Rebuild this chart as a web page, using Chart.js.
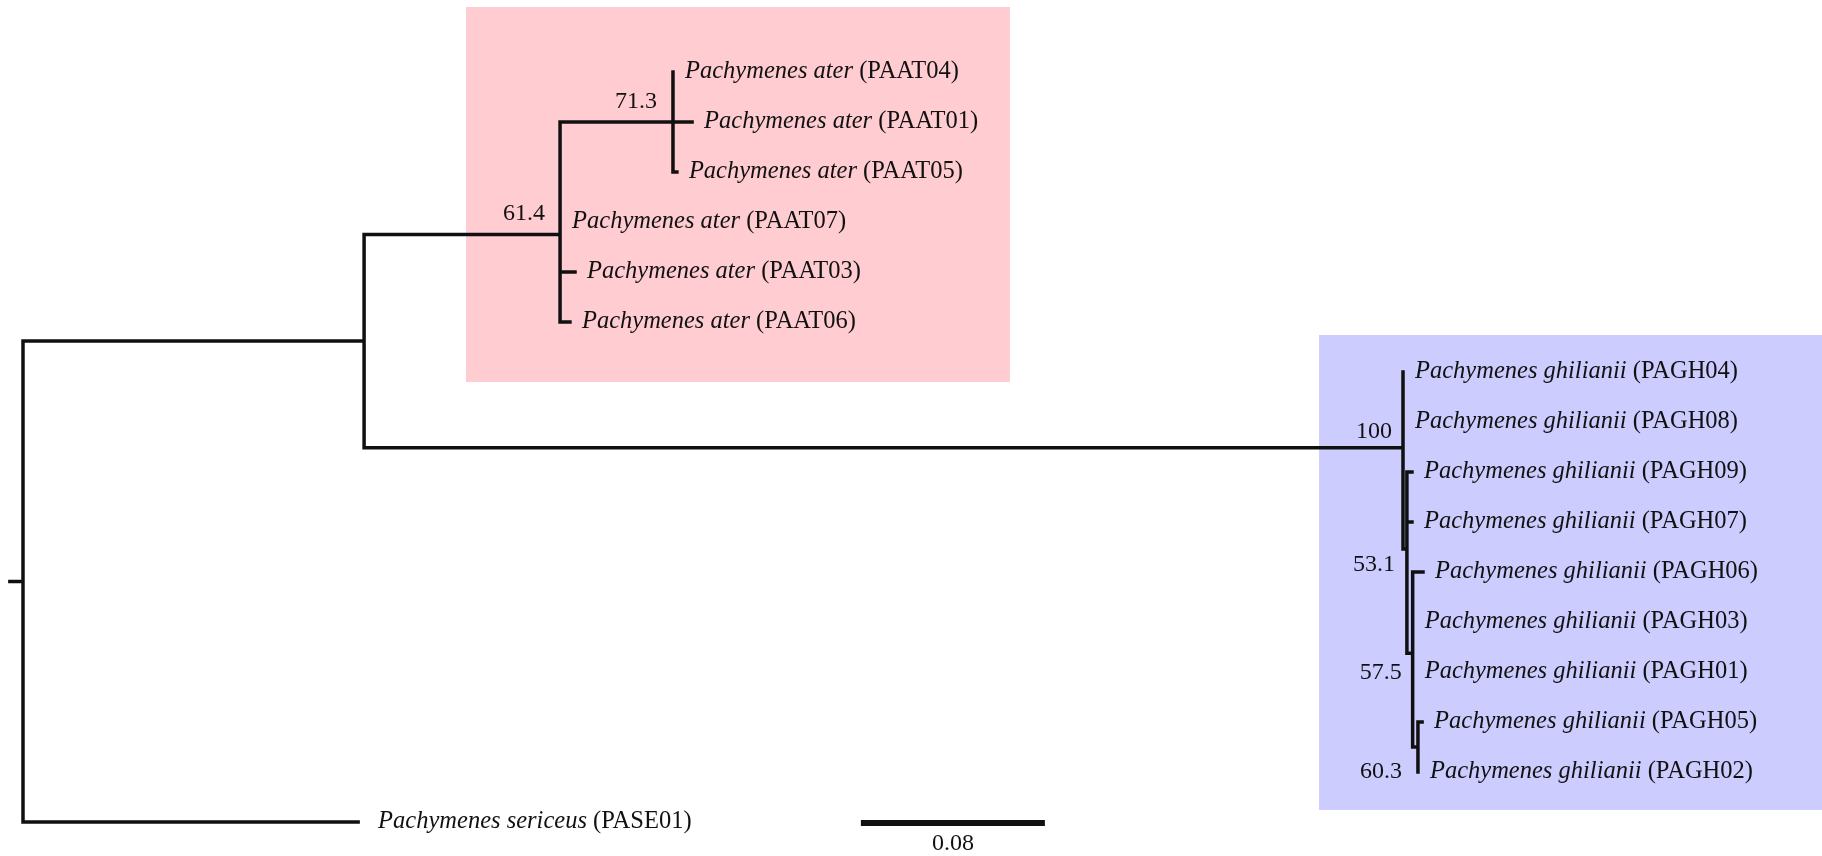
<!DOCTYPE html>
<html>
<head>
<meta charset="utf-8">
<title>Pachymenes phylogeny</title>
<script src="https://cdn.jsdelivr.net/npm/chart.js@4.4.1/dist/chart.umd.min.js"></script>
<style>
  html, body { margin: 0; padding: 0; background: #ffffff; }
  canvas { display: block; }
</style>
</head>
<body>
<canvas id="tree" width="1822" height="856"></canvas>
<script>
// ---- Tree data -------------------------------------------------------------
// Every node lists its parent (index, -1 for the root) and the length of the
// branch leading to it (substitutions per site). Leaves carry a taxon name.
const nodeNames = [
  '',                                   // 0  root
  '',                                   // 1  ingroup
  '',                                   // 2  P. ater clade
  '',                                   // 3  ater subclade
  'Pachymenes ater (PAAT04)',           // 4
  'Pachymenes ater (PAAT01)',           // 5
  'Pachymenes ater (PAAT05)',           // 6
  'Pachymenes ater (PAAT07)',           // 7
  'Pachymenes ater (PAAT03)',           // 8
  'Pachymenes ater (PAAT06)',           // 9
  '',                                   // 10 P. ghilianii clade
  'Pachymenes ghilianii (PAGH04)',      // 11
  'Pachymenes ghilianii (PAGH08)',      // 12
  '',                                   // 13
  'Pachymenes ghilianii (PAGH09)',      // 14
  'Pachymenes ghilianii (PAGH07)',      // 15
  '',                                   // 16
  'Pachymenes ghilianii (PAGH06)',      // 17
  'Pachymenes ghilianii (PAGH03)',      // 18
  'Pachymenes ghilianii (PAGH01)',      // 19
  '',                                   // 20
  'Pachymenes ghilianii (PAGH05)',      // 21
  'Pachymenes ghilianii (PAGH02)',      // 22
  'Pachymenes sericeus (PASE01)'        // 23
];
const nodeParent = [-1, 0, 1, 2, 3, 3, 3, 2, 2, 2, 1, 10, 10, 10, 13, 13, 13, 16, 16, 16, 16, 20, 20, 0];
const branchLength = [
  0.0057, 0.1483, 0.0852, 0.0491, 0.0, 0.0083, 0.0017, 0.0, 0.0065, 0.0043,
  0.4517, 0.0, 0.0, 0.0017, 0.0022, 0.0022, 0.0025, 0.0045, 0.0, 0.0,
  0.0023, 0.0018, 0.0, 0.1457
];
// Bootstrap support shown at internal nodes
const supportValues = [null, null, 61.4, 71.3, null, null, null, null, null, null,
  100, null, null, 53.1, null, null, 57.5, null, null, null, 60.3, null, null, null];

// Shaded clade panels (x in branch-length units, y in leaf rows)
const cladeBoxXMin = [0.1926, 0.5635];
const cladeBoxXMax = [0.4291, 0.7822];
const cladeBoxRowMin = [-1.30, 5.26];
const cladeBoxRowMax = [6.20, 14.76];

// Scale bar
const scaleBarLength = 0.08;
const scaleBarStart = 0.3643;
const scaleBarRow = 15.02;
const scaleBarLabel = '0.08';

// ---- Styling ---------------------------------------------------------------
const boxColors = ['rgb(255,204,209)', 'rgb(204,204,255)'];
const lineColor = '#101010';
const textColor = '#111111';
const fontFamily = '"Liberation Serif", "Times New Roman", serif';
const taxonFontSize = 24.5;
const supportFontSize = 24;
const tipGap = 12;
const tipGapOverride = {23: 20};
// Pixel nudges for support labels (right-aligned, left of their node)
const supportDx = {2: -15, 3: -16, 10: -11, 13: -12, 16: -11, 20: -16};
const supportDy = {2: -21, 3: -20, 10: -16, 13: 16, 16: 19, 20: 25};

// ---- Layout: depth from root and row position -----------------------------
const n = nodeNames.length;
const children = Array.from({ length: n }, () => []);
nodeParent.forEach((p, i) => { if (p >= 0) children[p].push(i); });
const depth = new Array(n);
const row = new Array(n);
let nextRow = 0;
function place(i, d) {
  depth[i] = d;
  if (children[i].length === 0) { row[i] = nextRow++; return; }
  children[i].forEach(c => place(c, d + branchLength[c]));
  row[i] = children[i].reduce((s, c) => s + row[c], 0) / children[i].length;
}
place(0, 0);

// Branch segments (null point breaks the line between segments)
const branchPoints = [];
function segment(x1, y1, x2, y2) {
  branchPoints.push({ x: x1, y: y1 }, { x: x2, y: y2 }, { x: x2, y: null });
}
segment(-branchLength[0], row[0], 0, row[0]);
for (let i = 0; i < n; i++) {
  const p = nodeParent[i];
  if (p >= 0 && branchLength[i] > 0) segment(depth[p], row[i], depth[i], row[i]);
  if (children[i].length > 0) {
    const rows = children[i].map(c => row[c]);
    segment(depth[i], Math.min(...rows), depth[i], Math.max(...rows));
  }
}

// ---- Plugins ---------------------------------------------------------------
const cladeBoxPlugin = {
  id: 'cladeBoxes',
  beforeDatasetsDraw(chart) {
    const { ctx, scales: { x, y } } = chart;
    ctx.save();
    cladeBoxXMin.forEach((x0, k) => {
      const left = x.getPixelForValue(x0);
      const right = x.getPixelForValue(cladeBoxXMax[k]);
      const top = y.getPixelForValue(cladeBoxRowMin[k]);
      const bottom = y.getPixelForValue(cladeBoxRowMax[k]);
      ctx.fillStyle = boxColors[k];
      ctx.fillRect(left, top, right - left, bottom - top);
    });
    ctx.restore();
  }
};

const treeLabelPlugin = {
  id: 'treeLabels',
  afterDatasetsDraw(chart) {
    const { ctx, scales: { x, y } } = chart;
    ctx.save();
    ctx.fillStyle = textColor;
    ctx.textBaseline = 'middle';
    // Taxon names: italic binomial followed by upright specimen code
    for (let i = 0; i < n; i++) {
      const name = nodeNames[i];
      if (!name) continue;
      const cut = name.indexOf(' (');
      const species = name.slice(0, cut + 1);
      const code = name.slice(cut + 1);
      let px = x.getPixelForValue(depth[i]) + (tipGapOverride[i] || tipGap);
      const py = y.getPixelForValue(row[i]);
      ctx.textAlign = 'left';
      ctx.font = `italic ${taxonFontSize}px ${fontFamily}`;
      ctx.fillText(species, px, py);
      px += ctx.measureText(species).width;
      ctx.font = `${taxonFontSize}px ${fontFamily}`;
      ctx.fillText(code, px, py);
    }
    // Support values
    ctx.font = `${supportFontSize}px ${fontFamily}`;
    ctx.textAlign = 'right';
    for (let i = 0; i < n; i++) {
      if (supportValues[i] === null) continue;
      const px = x.getPixelForValue(depth[i]) + (supportDx[i] || -12);
      const py = y.getPixelForValue(row[i]) + (supportDy[i] || -18);
      ctx.fillText(String(supportValues[i]), px, py);
    }
    // Scale bar caption
    ctx.textAlign = 'center';
    ctx.fillText(scaleBarLabel,
      x.getPixelForValue(scaleBarStart + scaleBarLength / 2),
      y.getPixelForValue(scaleBarRow) + 21);
    ctx.restore();
  }
};

// ---- Chart -----------------------------------------------------------------
new Chart(document.getElementById('tree'), {
  type: 'scatter',
  data: {
    datasets: [
      {
        label: 'branches',
        data: branchPoints,
        showLine: true,
        spanGaps: false,
        borderColor: lineColor,
        borderWidth: 3.5,
        borderCapStyle: 'square',
        borderJoinStyle: 'miter',
        pointRadius: 0,
        pointHoverRadius: 0,
        tension: 0
      },
      {
        label: 'scale',
        data: [
          { x: scaleBarStart, y: scaleBarRow },
          { x: scaleBarStart + scaleBarLength, y: scaleBarRow }
        ],
        showLine: true,
        borderColor: lineColor,
        borderWidth: 6,
        borderCapStyle: 'butt',
        pointRadius: 0,
        pointHoverRadius: 0
      }
    ]
  },
  options: {
    responsive: false,
    devicePixelRatio: 1,
    animation: false,
    events: [],
    layout: { padding: 0 },
    plugins: { legend: { display: false }, tooltip: { enabled: false } },
    scales: {
      x: { type: 'linear', display: false, min: -0.01, max: -0.01 + 1822 / 2300 },
      y: { type: 'linear', display: false, reverse: true, min: -1.44, max: -1.44 + 856 / 50 }
    }
  },
  plugins: [cladeBoxPlugin, treeLabelPlugin]
});
</script>
</body>
</html>
